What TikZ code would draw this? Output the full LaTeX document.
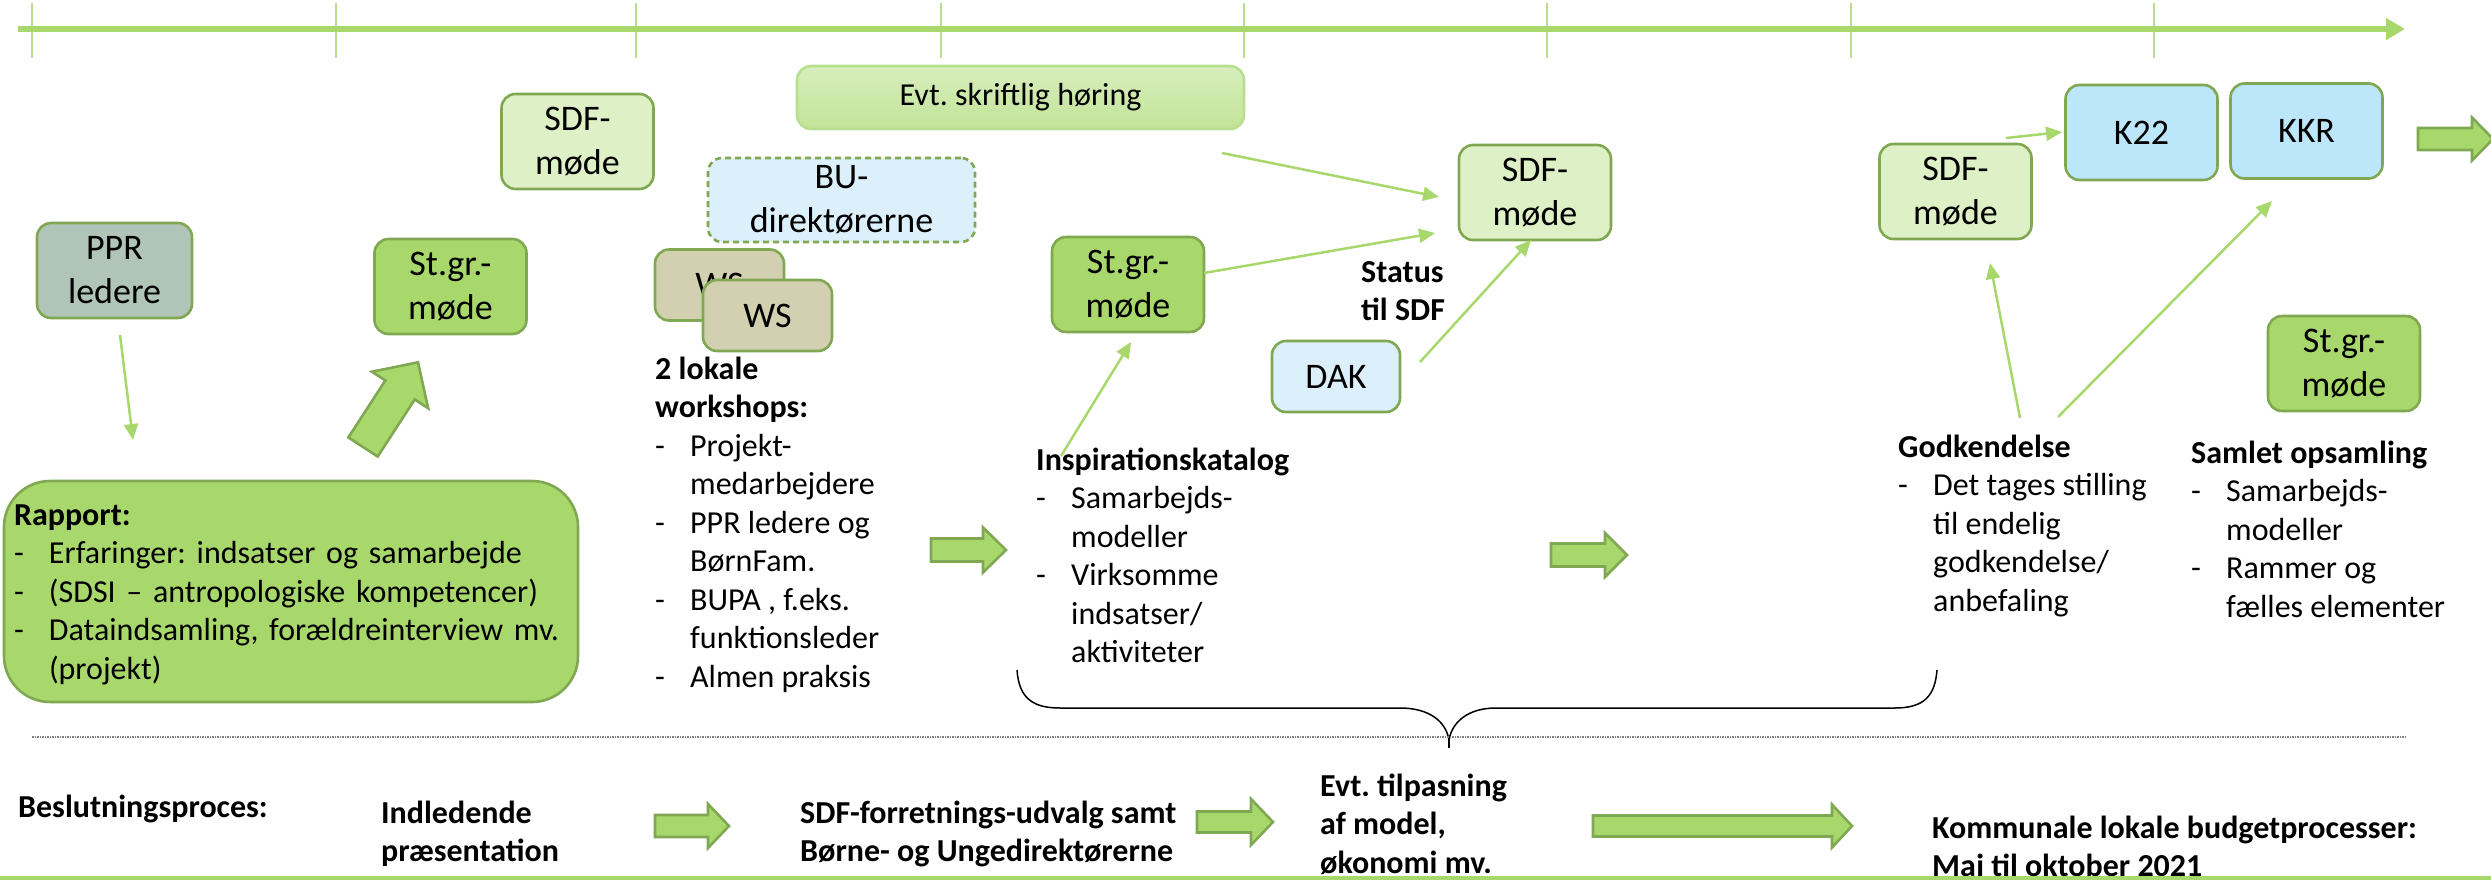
\documentclass[tikz,border=0pt]{standalone}
\usepackage{fontspec}
\setmainfont{Carlito}
\usetikzlibrary{arrows.meta}
\frenchspacing

\definecolor{grn}{HTML}{A8D86C}
\definecolor{grnline}{HTML}{80A852}
\definecolor{sdffill}{HTML}{DDF0C6}
\definecolor{pprfill}{HTML}{B0C4B8}
\definecolor{wsfill}{HTML}{D3CFB1}
\definecolor{bufill}{HTML}{DCF0FB}
\definecolor{kfill}{HTML}{BCE6FA}
\definecolor{tickgrn}{HTML}{B8DF90}

\newcommand\lstdash{\makebox[35pt][l]{-}}
\newcommand\lstind{\hspace*{35pt}}

% block arrow: tail, angle, length, head length, shaft half width, head half width
\newcommand\blockarrow[6]{%
  \draw[bigarrow, shift={(#1)}, rotate=#2]
    (0,-#5) -- ({#3-#4},-#5) -- ({#3-#4},-#6) -- (#3,0)
    -- ({#3-#4},#6) -- ({#3-#4},#5) -- (0,#5) -- cycle;}

\begin{document}
\begin{tikzpicture}[x=1pt, y=-1pt,
    box/.style={draw=grnline, line width=2.6pt, rounded corners=14pt, align=center,
      inner sep=0pt, font=\fontsize{36}{44}\selectfont,
      minimum width=152pt, minimum height=95pt},
    stgr/.style={box, fill=grn},
    sdf/.style={box, fill=sdffill},
    ws/.style={box, fill=wsfill, minimum width=129pt, minimum height=71pt},
    kbox/.style={box, fill=kfill},
    txt/.style={font=\fontsize{32}{38.5}\selectfont, align=left, inner sep=0pt, anchor=north west},
    conn/.style={draw=grn, line width=2.5pt, -{Triangle[length=16pt,width=14pt]}},
    bigarrow/.style={draw=grnline, line width=2.6pt, fill=grn, line join=miter},
    tick/.style={draw=tickgrn, line width=1.5pt}
  ]
\useasboundingbox (0,0) rectangle (2491,880);

% time line
\foreach \tx in {32,336,636,941,1244,1547,1851,2154}
  \draw[tick] (\tx,3) -- (\tx,58);
\draw[grn, line width=6pt, -{Triangle[length=19pt,width=21pt]}] (18,29) -- (2405,29);

% boxes
\node[box, fill=pprfill, minimum width=155pt] (ppr) at (114.5,270.5) {PPR\\ledere};
\node[stgr] (stgr1) at (450.5,286.5) {St.gr.-\\møde};
\node[sdf] (sdf1) at (577.5,141.5) {SDF-\\møde};
\node[box, draw=tickgrn, top color=sdffill!90!grn, bottom color=grn!70,
  font=\fontsize{32}{38.5}\selectfont,
  minimum width=447pt, minimum height=63pt] (hoering) at (1020.5,97.5) {Evt. skriftlig høring};
\node[box, dash pattern=on 6pt off 4pt, fill=bufill, minimum width=267pt, minimum height=84pt]
  (budir) at (841.5,200) {BU-\\direktørerne};
\node[ws] (ws1) at (719.5,285) {WS};
\node[ws] (ws2) at (767.5,315.5) {WS};
\node[stgr] (stgr2) at (1128,284.5) {St.gr.-\\møde};
\node[sdf] (sdf2) at (1535,192.5) {SDF-\\møde};
\node[box, fill=bufill, minimum width=128pt, minimum height=71pt] (dak) at (1336,376.5) {DAK};
\node[sdf] (sdf3) at (1955.5,191.5) {SDF-\\møde};
\node[kbox] (k22) at (2141.5,132.5) {K22};
\node[kbox] (kkr) at (2306.5,131) {KKR};
\node[stgr] (stgr3) at (2344,363.5) {St.gr.-\\møde};
\node[box, fill=grn, rounded corners=46pt, minimum width=574pt, minimum height=221pt,
  text width=554pt, align=left, font=\fontsize{32}{38.5}\selectfont] (rapport) at (291,591.5)
  {\strut\textbf{Rapport:}\\
   \lstdash Erfaringer: indsatser og samarbejde\\
   \lstdash (SDSI – antropologiske kompetencer)\\
   \lstdash Dataindsamling, forældreinterview mv.\\
   \lstind (projekt)};

% texts
\node[txt] (ws-txt) at (655,352) {\strut\textbf{2 lokale}\\\textbf{workshops:}\\
  \lstdash Projekt-\\\lstind medarbejdere\\
  \lstdash PPR ledere og\\\lstind BørnFam.\\
  \lstdash BUPA , f.eks.\\\lstind funktionsleder\\
  \lstdash Almen praksis};
\node[txt] (insp) at (1036,443) {\strut\textbf{Inspirationskatalog}\\
  \lstdash Samarbejds-\\\lstind modeller\\
  \lstdash Virksomme\\\lstind indsatser/\\\lstind aktiviteter};
\node[txt] (status) at (1361,255) {\strut\textbf{Status}\\\textbf{til SDF}};
\node[txt] (godk) at (1898,430) {\strut\textbf{Godkendelse}\\
  \lstdash Det tages stilling\\\lstind til endelig\\\lstind godkendelse/\\\lstind anbefaling};
\node[txt] (samlet) at (2191,436) {\strut\textbf{Samlet opsamling}\\
  \lstdash Samarbejds-\\\lstind modeller\\
  \lstdash Rammer og\\\lstind fælles elementer};

% connector ends
\coordinate (ppr-a) at (120,335);
\coordinate (rap-a) at (133,440);
\coordinate (insp-a) at (1061,456);
\coordinate (stgr2-a) at (1131,342);
\coordinate (stgr2-b) at (1204,273);
\coordinate (sdf2-a) at (1435,233);
\coordinate (hoer-a) at (1222,153);
\coordinate (sdf2-b) at (1439,197);
\coordinate (dak-a) at (1420,362);
\coordinate (sdf2-c) at (1531,240);
\coordinate (sdf3-a) at (2006,138);
\coordinate (k22-a) at (2062,132);
\coordinate (godk-a) at (2020,418);
\coordinate (sdf3-b) at (1990,263);
\coordinate (godk-b) at (2058,417);
\coordinate (kkr-a) at (2272,201);

\draw[conn] (ppr-a) -- (rap-a);
\draw[conn] (insp-a) -- (stgr2-a);
\draw[conn] (stgr2-b) -- (sdf2-a);
\draw[conn] (hoer-a) -- (sdf2-b);
\draw[conn] (dak-a) -- (sdf2-c);
\draw[conn] (sdf3-a) -- (k22-a);
\draw[conn] (godk-a) -- (sdf3-b);
\draw[conn] (godk-b) -- (kkr-a);

% block arrows
\blockarrow{363,447}{57}{101}{33}{17.5}{33.5}
\blockarrow{931,550}{0}{75}{23}{11.5}{22.5}
\blockarrow{1551,555}{0}{76}{22}{11.5}{22}
\blockarrow{2418,139}{0}{75}{21}{11}{21.5}

% brace
\draw[line width=1.5pt] (1017,670) .. controls (1019,700) and (1035,708) .. (1060,708)
  -- (1400,708) .. controls (1430,708) and (1446,722) .. (1449,740)
  .. controls (1452,722) and (1468,708) .. (1496,708)
  -- (1895,708) .. controls (1925,708) and (1935,695) .. (1937,670);
\draw[line width=1.5pt] (1449,738) -- (1449,748);

% decision row
\draw[gray, line width=1.5pt, dash pattern=on 1.5pt off 1pt] (32,737) -- (2405,737);
\node[txt] (besl) at (18,790) {\strut\textbf{Beslutningsproces:}};
\node[txt] (indl) at (381,796) {\strut\textbf{Indledende}\\\textbf{præsentation}};
\node[txt] (sdffu) at (800,796) {\strut\textbf{SDF-forretnings-udvalg samt}\\\textbf{Børne- og Ungedirektørerne}};
\node[txt] (tilp) at (1320,769) {\strut\textbf{Evt. tilpasning}\\\textbf{af model,}\\\textbf{økonomi mv.}};
\node[txt] (komm) at (1932,811) {\strut\textbf{Kommunale lokale budgetprocesser:}\\\textbf{Maj til oktober 2021}};
\blockarrow{655,826}{0}{74}{21}{11}{22}
\blockarrow{1197,822}{0}{76}{22}{10.5}{23}
\blockarrow{1593,826}{0}{259}{20}{10.5}{21.5}
\draw[grn, line width=4pt] (0,878) -- (2491,878);
\end{tikzpicture}
\end{document}
